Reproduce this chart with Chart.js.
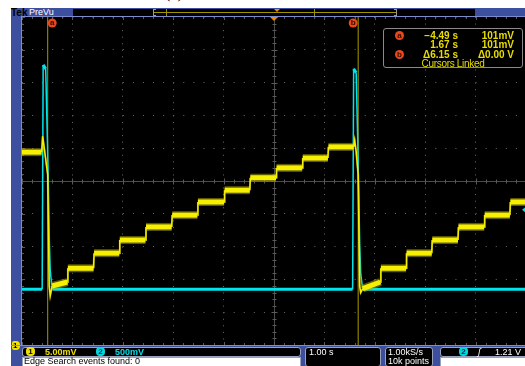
<!DOCTYPE html>
<html>
<head>
<meta charset="utf-8">
<script src="https://cdn.jsdelivr.net/npm/chart.js@4.4.0/dist/chart.umd.min.js"></script>
<style>
  html, body { margin: 0; padding: 0; width: 525px; height: 366px; overflow: hidden; background: #fff; }
  body { position: relative; font-family: "Liberation Sans", "DejaVu Sans", sans-serif; }
  .abs { position: absolute; }
  #caption { left: 165px; top: -15px; font-family: "Liberation Serif", serif; font-size: 16px; line-height: 16px; color: #000; white-space: nowrap; }
  #frame { left: 11px; top: 8px; width: 514px; height: 358px; background: #3d4f9f; }
  #plotEdge { left: 21px; top: 16px; width: 504px; height: 330px; background: #7d8ccc; }
  #plotBox { left: 22px; top: 17px; width: 503px; height: 328px; background: #000; }
  #scope { position: absolute; left: 22px; top: 17px; }
  .txt { position: absolute; white-space: nowrap; font-size: 9px; line-height: 9px; }
  #tek { left: 11px; top: 8px; font-weight: bold; color: #000; font-size: 10px; line-height: 9px; }
  #prevu { left: 29px; top: 8px; color: #fff; font-size: 9px; }
  #record { left: 73px; top: 9px; width: 402px; height: 7px; background: #000; }
  .badge { position: absolute; width: 9px; height: 9px; border-radius: 50%; font-size: 8px; line-height: 9px; text-align: center; font-weight: bold; }
  #readout { left: 383px; top: 28px; width: 138px; height: 38px; background: #000; border: 1px solid #8a8a8a; border-radius: 3px; }
  #readout .txt { color: #e8dc00; font-weight: bold; font-size: 10px; line-height: 10px; }
  .r1 { right: 64px; text-align: right; }
  .r2 { right: 8px; text-align: right; }
  .box { position: absolute; background: #000; border: 1px solid #9aa0b8; border-radius: 3px; box-sizing: border-box; }
  .white { position: absolute; background: #fff; border: 1px solid #9aa0b8; box-sizing: border-box; }
</style>
</head>
<body>
<div id="caption" class="abs">(c)</div>
<div id="frame" class="abs"></div>
<div id="plotEdge" class="abs"></div>
<div id="plotBox" class="abs"></div>
<div id="tek" class="txt">Tek</div>
<div id="prevu" class="txt">PreVu</div>
<div id="record" class="abs">
  <div class="abs" style="left:80px;top:0;width:1px;height:7px;background:#9a9a9a"></div>
  <div class="abs" style="left:80px;top:0;width:3px;height:1px;background:#9a9a9a"></div>
  <div class="abs" style="left:80px;top:6px;width:3px;height:1px;background:#9a9a9a"></div>
  <div class="abs" style="left:323px;top:0;width:1px;height:7px;background:#9a9a9a"></div>
  <div class="abs" style="left:321px;top:0;width:3px;height:1px;background:#9a9a9a"></div>
  <div class="abs" style="left:321px;top:6px;width:3px;height:1px;background:#9a9a9a"></div>
  <div class="abs" style="left:81px;top:3px;width:242px;height:1px;background:#a09400"></div>
  <div class="abs" style="left:93px;top:0;width:1px;height:7px;background:#a09400"></div>
  <div class="abs" style="left:241px;top:0;width:1px;height:7px;background:#a09400"></div>
  <div class="abs" style="left:201px;top:0;width:0;height:0;border-left:3px solid transparent;border-right:3px solid transparent;border-top:3px solid #f08a00"></div>
</div>

<canvas id="scope" width="503" height="328"></canvas>

<div id="readout" class="abs">
  <div class="badge" style="left:11px;top:2px;background:#e8481a;color:#3a0a00">a</div>
  <div class="txt r1" style="top:2px">&minus;4.49 s</div>
  <div class="txt r2" style="top:2px">101mV</div>
  <div class="txt r1" style="top:11px">1.67 s</div>
  <div class="txt r2" style="top:11px">101mV</div>
  <div class="badge" style="left:11px;top:21px;background:#e8481a;color:#3a0a00">b</div>
  <div class="txt r1" style="top:21px">&Delta;6.15 s</div>
  <div class="txt r2" style="top:21px">&Delta;0.00 V</div>
  <div class="txt" style="left:0;width:138px;text-align:center;top:30px;font-weight:normal;letter-spacing:-0.3px">Cursors Linked</div>
</div>

<!-- channel 1 ground marker -->
<div class="abs" style="left:12px;top:341px;width:8px;height:9px;background:#f0e000;border-radius:2px 4px 4px 2px"></div>
<div class="txt" style="left:13px;top:341px;color:#000;font-weight:bold;font-size:8px">1</div>

<!-- status bar -->
<div class="abs" style="left:11px;top:345px;width:514px;height:1px;background:#7d8ccc"></div>
<div class="box" style="left:22px;top:347px;width:279px;height:10px"></div>
<div class="white" style="left:22px;top:357px;width:279px;height:10px"></div>
<div class="txt" style="left:24px;top:357px;color:#000;font-size:9px">Edge Search events found: 0</div>
<div class="badge" style="left:26px;top:347px;background:#f0e000;color:#000;border-radius:4px">1</div>
<div class="txt" style="left:45px;top:348px;color:#f0e000;font-weight:bold">5.00mV</div>
<div class="badge" style="left:96px;top:347px;background:#00d8e0;color:#003040;border-radius:4px">2</div>
<div class="txt" style="left:115px;top:348px;color:#00e0e8;font-weight:bold">500mV</div>

<div class="box" style="left:305px;top:347px;width:76px;height:20px"></div>
<div class="txt" style="left:309px;top:348px;color:#fff">1.00 s</div>

<div class="box" style="left:385px;top:347px;width:48px;height:20px"></div>
<div class="txt" style="left:388px;top:348px;color:#fff">1.00kS/s</div>
<div class="txt" style="left:388px;top:357px;color:#fff">10k points</div>

<div class="box" style="left:440px;top:347px;width:90px;height:10px"></div>
<div class="white" style="left:440px;top:357px;width:90px;height:10px"></div>
<div class="badge" style="left:459px;top:347px;background:#00d8e0;color:#003040;border-radius:4px">2</div>
<div class="txt" style="left:478px;top:348px;color:#fff;font-style:italic">&#x283;</div>
<div class="txt" style="left:495px;top:348px;color:#fff">1.21 V</div>

<script>
// Channel 1 (yellow, 5 mV/div): vertices of the staircase, time in s, level in mV
const ch1Time = [-5.00, -4.61, -4.59, -4.55, -4.49, -4.46, -4.44, -4.40, -4.10,
  -4.09, -3.58, -3.57, -3.07, -3.06, -2.55, -2.54, -2.03, -2.02, -1.52, -1.51, -0.99,
  -0.98, -0.48, -0.47, 0.04, 0.05, 0.56, 0.57, 1.07, 1.08, 1.58, 1.60, 1.63, 1.67,
  1.70, 1.72, 1.76, 2.11, 2.12, 2.62, 2.63, 3.13, 3.14, 3.65, 3.66, 4.17, 4.18, 4.68,
  4.69, 4.98];
const ch1Level = [104.4, 104.4, 106.8, 104.5, 101.0, 84.0, 82.5, 84.0, 84.6,
  86.7, 86.7, 89.0, 89.0, 91.0, 91.0, 93.0, 93.0, 94.8, 94.8, 96.8, 96.8,
  98.6, 98.6, 100.5, 100.5, 102.0, 102.0, 103.5, 103.5, 105.2, 105.2, 106.2, 104.5, 101.0,
  84.0, 83.0, 83.6, 84.6, 86.7, 86.7, 89.0, 89.0, 91.0, 91.0, 93.0, 93.0, 94.8, 94.8,
  96.8, 96.8];

// Channel 2 (cyan, 500 mV/div): pulse vertices, time in s, volts
const ch2Time = [-5.00, -4.60, -4.58, -4.53, -4.50, -4.48, -4.46, -4.44, -4.41, -4.37,
  1.56, 1.58, 1.63, 1.66, 1.68, 1.70, 1.72, 1.75, 1.79, 4.98];
const ch2Volt = [0.00, 0.00, 3.42, 3.36, 2.40, 1.70, 0.80, 0.29, 0.06, 0.00,
  0.00, 3.36, 3.30, 2.30, 1.50, 0.70, 0.25, 0.05, 0.00, 0.00];

// Cursor positions (s) and trigger settings
const cursorTimes = [-4.49, 1.67];
const cursorNames = ['a', 'b'];
const triggerTime = 0;
const triggerLevel = 1.21;

// Screen: 1.00 s/div horizontally, 10 divisions vertically
const timeMin = -5, timeMax = 4.98;
const ch1Center = 100, ch1PerDiv = 5;
const ch2Center = 1.65, ch2PerDiv = 0.5;

const pts = (xs, ys) => xs.map((t, i) => ({ x: t, y: ys[i] }));

// flat stretches carry the trace's noise band; steep edges are drawn thin
const bandWidth = (flat, edge) => ctx =>
  (Math.abs(ctx.p1.y - ctx.p0.y) < Math.abs(ctx.p1.x - ctx.p0.x) ? flat : edge);
// the pulse keeps a full-width crest
const pulseWidth = (flat, edge) => ctx =>
  (Math.abs(ctx.p1.parsed.x - ctx.p0.parsed.x) >= 0.04 ? flat : edge);

const scopePlugin = {
  id: 'scopeGraticule',
  beforeDraw(chart) {
    const { ctx, chartArea: a } = chart;
    ctx.save();
    ctx.fillStyle = '#000';
    ctx.fillRect(a.left, a.top, a.right - a.left, a.bottom - a.top);
    ctx.restore();
  },
  beforeDatasetsDraw(chart) {
    const { ctx, chartArea: a, scales } = chart;
    const x = scales.x, y = scales.y;
    const cx = Math.round(x.getPixelForValue(0)) + 0.5;
    const cy = Math.round(y.getPixelForValue(ch1Center)) + 0.5;
    ctx.save();
    ctx.strokeStyle = '#4c4c4c';
    ctx.lineWidth = 1;
    ctx.beginPath();
    ctx.moveTo(a.left, cy); ctx.lineTo(a.right, cy);
    ctx.moveTo(cx, a.top); ctx.lineTo(cx, a.bottom);
    ctx.stroke();
    ctx.strokeStyle = '#5a5a5a';
    ctx.beginPath();
    for (let k = -25; k <= 25; k++) {
      const px = Math.round(x.getPixelForValue(k / 5)) + 0.5;
      if (px < a.left || px > a.right) continue;
      const len = (k % 5 === 0) ? 3 : 2;
      ctx.moveTo(px, cy - len); ctx.lineTo(px, cy + len);
      ctx.moveTo(px, a.top); ctx.lineTo(px, a.top + len);
      ctx.moveTo(px, a.bottom); ctx.lineTo(px, a.bottom - len);
    }
    for (let k = -25; k <= 25; k++) {
      const py = Math.round(y.getPixelForValue(ch1Center + k * ch1PerDiv / 5)) + 0.5;
      if (py < a.top || py > a.bottom) continue;
      const len = (k % 5 === 0) ? 3 : 2;
      ctx.moveTo(cx - len, py); ctx.lineTo(cx + len, py);
      ctx.moveTo(a.left, py); ctx.lineTo(a.left + len, py);
    }
    ctx.stroke();
    ctx.restore();
  },
  afterDatasetsDraw(chart) {
    const { ctx, chartArea: a, scales } = chart;
    ctx.save();
    // trigger position marker
    const tx = scales.x.getPixelForValue(triggerTime);
    ctx.fillStyle = '#f08a00';
    ctx.beginPath();
    ctx.moveTo(tx - 4, a.top); ctx.lineTo(tx + 4, a.top); ctx.lineTo(tx, a.top + 4);
    ctx.closePath(); ctx.fill();
    // trigger level marker on the right edge
    const ty = scales.y2.getPixelForValue(triggerLevel);
    ctx.fillStyle = '#00e0e8';
    ctx.beginPath();
    ctx.moveTo(a.right - 3, ty); ctx.lineTo(a.right + 2, ty - 4); ctx.lineTo(a.right + 2, ty + 4);
    ctx.closePath(); ctx.fill();
    // cursor tags
    cursorTimes.forEach((t, i) => {
      const px = scales.x.getPixelForValue(t) + (i === 0 ? 4.5 : -5);
      const py = a.top + 6;
      ctx.fillStyle = '#e8481a';
      ctx.beginPath(); ctx.arc(px, py, 4.5, 0, Math.PI * 2); ctx.fill();
      ctx.fillStyle = '#3a0a00';
      ctx.font = 'bold 8px "Liberation Sans", sans-serif';
      ctx.textAlign = 'center'; ctx.textBaseline = 'middle';
      ctx.fillText(cursorNames[i], px, py);
    });
    ctx.restore();
  }
};

const ch1Min = ch1Center - 5 * ch1PerDiv, ch1Max = ch1Center + 5 * ch1PerDiv;
const ch2Min = ch2Center - 5 * ch2PerDiv, ch2Max = ch2Center + 5 * ch2PerDiv;

const cursorSets = cursorTimes.map(t => ({
  data: [{ x: t, y: ch1Min }, { x: t, y: ch1Max }],
  yAxisID: 'y',
  borderColor: '#a89a00',
  borderWidth: 1,
  pointRadius: 0,
  order: 5
}));

new Chart(document.getElementById('scope'), {
  type: 'line',
  data: {
    datasets: [
      // bright trace core
      { data: pts(ch1Time, ch1Level), yAxisID: 'y', borderColor: '#f6f000', borderWidth: 5,
        pointRadius: 0, order: 1, segment: { borderWidth: bandWidth(5, 1.5) } },
      // dimmer noise fringe of the same trace
      { data: pts(ch1Time, ch1Level), yAxisID: 'y', borderColor: 'rgba(170,160,0,0.55)', borderWidth: 8,
        pointRadius: 0, order: 2, segment: { borderWidth: bandWidth(8, 2) } },
      { data: pts(ch2Time, ch2Volt), yAxisID: 'y2', borderColor: '#00e4ec', borderWidth: 3,
        pointRadius: 0, order: 3, segment: { borderWidth: pulseWidth(3, 1.5) } },
      ...cursorSets
    ]
  },
  options: {
    responsive: false,
    devicePixelRatio: 1,
    animation: false,
    layout: { padding: 0 },
    plugins: { legend: { display: false }, tooltip: { enabled: false } },
    scales: {
      x: {
        type: 'linear', min: timeMin, max: timeMax,
        ticks: { display: false, stepSize: 1, includeBounds: false },
        grid: { color: '#6a6a6a', drawTicks: false, lineWidth: 1 },
        border: { display: false, dash: [1, 5.56] }
      },
      y: {
        min: ch1Min, max: ch1Max,
        ticks: { display: false, stepSize: ch1PerDiv, includeBounds: false },
        grid: { color: '#6a6a6a', drawTicks: false, lineWidth: 1 },
        border: { display: false, dash: [1, 9.08] }
      },
      y2: {
        min: ch2Min, max: ch2Max, display: false
      }
    }
  },
  plugins: [scopePlugin]
});
</script>
</body>
</html>
